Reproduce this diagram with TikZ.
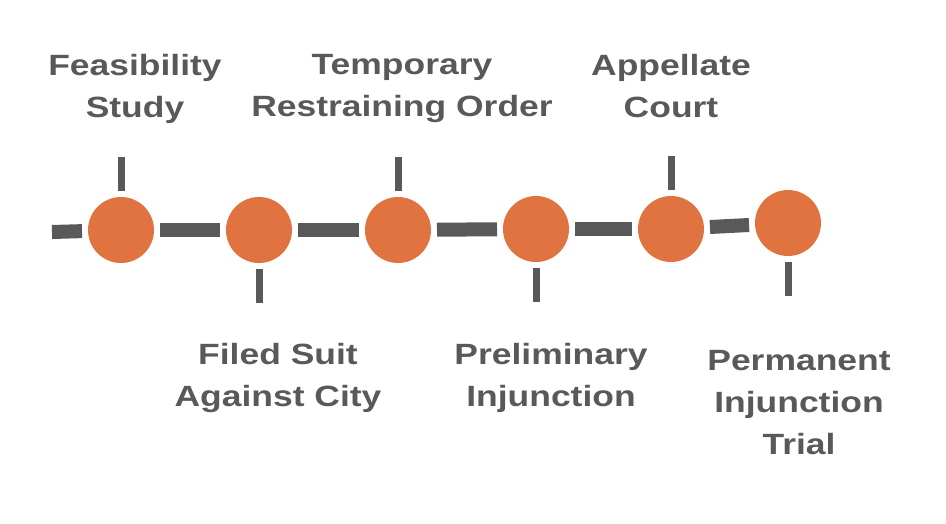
\documentclass[tikz,border=0pt]{standalone}
\usepackage{fontspec}
\setmainfont{Liberation Sans}
\definecolor{dotorange}{HTML}{E0733F}
\definecolor{linegrey}{HTML}{595959}
\begin{document}
\begin{tikzpicture}[x=1pt,y=-1pt,
  dot/.style={circle,fill=dotorange,minimum size=66pt,inner sep=0pt,outer sep=6pt},
  seg/.style={draw=linegrey,line width=14pt,line cap=butt},
  tick/.style={draw=linegrey,line width=7pt,line cap=butt},
  lbl/.style={text=linegrey,font=\fontsize{29.3}{42}\selectfont\bfseries,align=center,
    anchor=north,inner sep=0pt,xscale=1.21,transform shape}]
\useasboundingbox (0,0) rectangle (946,524);
\node[dot] (c1) at (121,230) {};
\node[dot] (c2) at (259,230) {};
\node[dot] (c3) at (398,230) {};
\node[dot] (c4) at (536,229) {};
\node[dot] (c5) at (671,229) {};
\node[dot] (c6) at (788,223) {};
\coordinate (s0) at (52,232);
\draw[seg] (s0) -- (c1);
\draw[seg] (c1) -- (c2);
\draw[seg] (c2) -- (c3);
\draw[seg] (c3) -- (c4);
\draw[seg] (c4) -- (c5);
\draw[seg] (c5) -- (c6);
\draw[tick] (c1.north) -- ++(0,-34);
\draw[tick] (c3.north) -- ++(0,-34);
\draw[tick] (c5.north) -- ++(0,-34);
\draw[tick] (c2.south) -- ++(0,34);
\draw[tick] (c4.south) -- ++(0,34);
\draw[tick] (c6.south) -- ++(0,34);
\node[lbl] (l1) at (135,54) {Feasibility\\Study};
\node[lbl] (l3) at (402,54) {Temporary\\Restraining Order};
\node[lbl] (l5) at (671,54) {Appellate\\Court};
\node[lbl] (l2) at (278,343) {Filed Suit\\Against City};
\node[lbl] (l4) at (551,343) {Preliminary\\Injunction};
\node[lbl] (l6) at (799,350) {Permanent\\Injunction\\Trial};
\end{tikzpicture}
\end{document}
